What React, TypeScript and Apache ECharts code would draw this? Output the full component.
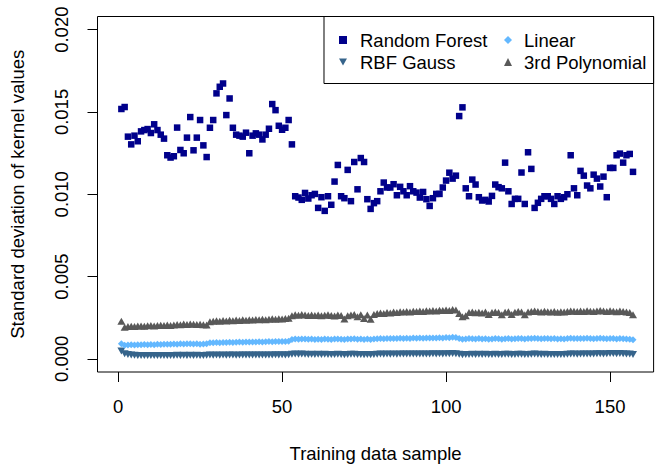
import { useEffect, useRef } from "react";
import * as echarts from "echarts";

// Kernel standard deviations per training sample (samples 1..157)
const randomForest = [
  0.01518, 0.0153, 0.0135, 0.01303, 0.01356, 0.01322, 0.01382, 0.0139, 0.01396, 0.01372,
  0.01425, 0.0139, 0.01362, 0.01338, 0.01237, 0.01223, 0.01231, 0.01405, 0.01269, 0.01249,
  0.01344, 0.01469, 0.01267, 0.01344, 0.01451, 0.01297, 0.01226, 0.01404, 0.01451, 0.01613,
  0.01653, 0.01673, 0.01481, 0.01582, 0.01404, 0.01362, 0.01356, 0.0135, 0.01374, 0.01249,
  0.01356, 0.0137, 0.01362, 0.01333, 0.01362, 0.01398, 0.01548, 0.01511, 0.01416, 0.01392,
  0.01404, 0.01451, 0.01303, 0.00988, 0.0098, 0.00966, 0.01008, 0.00974, 0.00994, 0.01002,
  0.00917, 0.00982, 0.00899, 0.00988, 0.00936, 0.01077, 0.01178, 0.00988, 0.00976, 0.01148,
  0.00958, 0.01196, 0.0103, 0.0122, 0.01196, 0.0097, 0.00911, 0.00946, 0.00958, 0.01018,
  0.01071, 0.01041, 0.01041, 0.01061, 0.00994, 0.01045, 0.01018, 0.00994, 0.01049, 0.01018,
  0.0101, 0.0098, 0.01014, 0.0097, 0.00929, 0.00976, 0.01002, 0.01002, 0.01041, 0.01083,
  0.01131, 0.01095, 0.01113, 0.01475, 0.01528, 0.01036, 0.00988, 0.01089, 0.01059, 0.00982,
  0.00962, 0.00966, 0.00956, 0.0099, 0.01059, 0.01043, 0.01036, 0.01192, 0.01018, 0.00941,
  0.00972, 0.00972, 0.01132, 0.00941, 0.01255, 0.01154, 0.00917, 0.00948, 0.00972, 0.00988,
  0.00988, 0.00972, 0.00941, 0.00988, 0.00972, 0.00982, 0.01, 0.01237, 0.01036, 0.00994,
  0.01142, 0.01113, 0.01053, 0.01036, 0.01119, 0.01095, 0.01047, 0.01107, 0.00982, 0.0116,
  0.0116, 0.01237, 0.01247, 0.01192, 0.01237, 0.01245, 0.01136,
];

const rbfGauss = [
  0.00048, 0.00031, 0.00026, 0.00023, 0.00022, 0.00021, 0.0002, 0.00021, 0.0002, 0.00021,
  0.0002, 0.00021, 0.0002, 0.00021, 0.00021, 0.0002, 0.00021, 0.00022, 0.00021, 0.00022,
  0.00021, 0.00022, 0.00021, 0.00022, 0.00021, 0.00021, 0.00022, 0.00023, 0.00022, 0.00023,
  0.00022, 0.00023, 0.00022, 0.00023, 0.00023, 0.00022, 0.00023, 0.00024, 0.00023, 0.00024,
  0.00023, 0.00024, 0.00023, 0.00024, 0.00024, 0.00023, 0.00024, 0.00025, 0.00024, 0.00025,
  0.00024, 0.00025, 0.00028, 0.00029, 0.00028, 0.00029, 0.00028, 0.00027, 0.00028, 0.00027,
  0.00028, 0.00027, 0.00028, 0.00027, 0.00026, 0.00027, 0.00028, 0.00027, 0.00025, 0.00027,
  0.00028, 0.00028, 0.00026, 0.00027, 0.00025, 0.00027, 0.00025, 0.00027, 0.00028, 0.00029,
  0.00028, 0.00029, 0.00028, 0.00029, 0.00028, 0.00029, 0.00029, 0.0003, 0.00029, 0.0003,
  0.00029, 0.0003, 0.00029, 0.0003, 0.0003, 0.00031, 0.0003, 0.00031, 0.0003, 0.00031,
  0.00031, 0.00032, 0.00031, 0.00028, 0.00025, 0.00026, 0.00027, 0.00028, 0.00027, 0.00028,
  0.00027, 0.00028, 0.00026, 0.00027, 0.00028, 0.00027, 0.00026, 0.00028, 0.00028, 0.00026,
  0.00027, 0.00028, 0.00028, 0.00026, 0.00027, 0.00028, 0.00029, 0.00028, 0.00027, 0.00028,
  0.00027, 0.00026, 0.00027, 0.00026, 0.00027, 0.00027, 0.00028, 0.00029, 0.00029, 0.00028,
  0.00029, 0.00029, 0.0003, 0.00029, 0.0003, 0.00031, 0.00031, 0.0003, 0.00031, 0.00032,
  0.00032, 0.00031, 0.00032, 0.00031, 0.0003, 0.00029, 0.00027,
];

const linear = [
  0.00092, 0.00083, 0.00084, 0.00085, 0.00084, 0.00086, 0.00085, 0.00087, 0.00086, 0.00087,
  0.00086, 0.00088, 0.00087, 0.00088, 0.00089, 0.00088, 0.0009, 0.00089, 0.00091, 0.0009,
  0.00091, 0.00092, 0.0009, 0.00091, 0.00089, 0.0009, 0.00091, 0.00097, 0.00098, 0.00099,
  0.00098, 0.001, 0.00099, 0.00101, 0.001, 0.00101, 0.00102, 0.00101, 0.00102, 0.00103,
  0.00102, 0.00103, 0.00104, 0.00103, 0.00104, 0.00105, 0.00104, 0.00105, 0.00106, 0.00105,
  0.00106, 0.00107, 0.00118, 0.0012, 0.00119, 0.00121, 0.0012, 0.00119, 0.0012, 0.00118,
  0.00119, 0.00118, 0.0012, 0.00119, 0.00118, 0.0012, 0.00121, 0.00119, 0.00117, 0.0012,
  0.00121, 0.00122, 0.00119, 0.00121, 0.00118, 0.0012, 0.00117, 0.00121, 0.00122, 0.00123,
  0.00122, 0.00124, 0.00123, 0.00124, 0.00123, 0.00125, 0.00124, 0.00125, 0.00124, 0.00126,
  0.00125, 0.00126, 0.00125, 0.00127, 0.00126, 0.00127, 0.00126, 0.00128, 0.00127, 0.00129,
  0.00128, 0.00131, 0.0013, 0.00124, 0.00119, 0.00121, 0.00123, 0.00122, 0.00121, 0.00123,
  0.0012, 0.00122, 0.00119, 0.00121, 0.00123, 0.00122, 0.00119, 0.00122, 0.00123, 0.0012,
  0.00122, 0.00124, 0.00123, 0.0012, 0.00123, 0.00124, 0.00125, 0.00123, 0.00122, 0.00124,
  0.00123, 0.00122, 0.00123, 0.00121, 0.00122, 0.00121, 0.00123, 0.00125, 0.00124, 0.00123,
  0.00124, 0.00123, 0.00125, 0.00124, 0.00122, 0.00124, 0.00125, 0.00124, 0.00122, 0.00124,
  0.00123, 0.00121, 0.00123, 0.00122, 0.0012, 0.00119, 0.00116,
];

const polynomial3 = [
  0.00228, 0.00192, 0.00196, 0.00198, 0.00197, 0.00199, 0.002, 0.00198, 0.00201, 0.00202,
  0.002, 0.00203, 0.00204, 0.00202, 0.00205, 0.00203, 0.00206, 0.00209, 0.00207, 0.00211,
  0.00209, 0.00212, 0.0021, 0.00208, 0.0021, 0.00207, 0.00205, 0.00226, 0.00229, 0.00231,
  0.00228, 0.00233, 0.0023, 0.00234, 0.00232, 0.00236, 0.00233, 0.00237, 0.00235, 0.00238,
  0.00236, 0.00239, 0.00237, 0.0024, 0.00238, 0.00241, 0.00243, 0.0024, 0.00244, 0.00242,
  0.00245, 0.00247, 0.00262, 0.00268, 0.00265, 0.0027, 0.00266, 0.00264, 0.00267, 0.00263,
  0.00266, 0.00262, 0.00265, 0.00268, 0.00264, 0.00261, 0.00266, 0.00263, 0.00242, 0.00262,
  0.00266, 0.0027, 0.00255, 0.00268, 0.00245, 0.00266, 0.0024, 0.0027, 0.00275, 0.00278,
  0.00276, 0.00281, 0.00279, 0.00284, 0.00282, 0.00286, 0.00284, 0.00288, 0.00285, 0.00289,
  0.00287, 0.00291, 0.00288, 0.00292, 0.0029, 0.00294, 0.00291, 0.00295, 0.00293, 0.00297,
  0.00294, 0.00299, 0.00296, 0.00276, 0.00255, 0.00262, 0.00281, 0.00284, 0.0028, 0.00283,
  0.00279, 0.00284, 0.0027, 0.00282, 0.00285, 0.00281, 0.00268, 0.00283, 0.00286, 0.0027,
  0.00283, 0.00287, 0.00284, 0.00268, 0.00285, 0.00288, 0.00291, 0.00287, 0.00285, 0.00289,
  0.00286, 0.00284, 0.00287, 0.00283, 0.00286, 0.00284, 0.00288, 0.00291, 0.00289, 0.00287,
  0.0029, 0.00288, 0.00292, 0.00289, 0.00287, 0.00291, 0.00293, 0.0029, 0.00288, 0.00292,
  0.00289, 0.00286, 0.0029, 0.00287, 0.00284, 0.00281, 0.00268,
];

const xTicks = [0, 50, 100, 150];
const yTicks = [0, 0.005, 0.01, 0.015, 0.02];

const FONT = "'Liberation Sans', Arial, Helvetica, sans-serif";
const FONT_SIZE = 18.5;
const DOWN_TRIANGLE = "path://M0,0L10,0L5,9Z";

const toPoints = (values: number[]) => values.map((v, i) => [i + 1, v]);

export default function App() {
  const ref = useRef<HTMLDivElement>(null);

  useEffect(() => {
    if (!ref.current) return;
    const chart = echarts.init(ref.current, undefined, { renderer: "svg" });

    const legendBase = {
      orient: "vertical",
      top: 30,
      padding: 0,
      itemWidth: 8,
      itemHeight: 8,
      itemGap: 2,
    };
    const legendText = (pad: number) => ({
      fontSize: FONT_SIZE,
      lineHeight: 20,
      color: "#000",
      fontFamily: FONT,
      padding: [0, 0, 0, pad],
    });
    const axisText = { fontSize: FONT_SIZE, color: "#000", fontFamily: FONT };

    chart.setOption({
      animation: false,
      backgroundColor: "#fff",
      textStyle: { fontFamily: FONT },
      grid: {
        left: 97.4,
        right: 2.4,
        top: 16.5,
        bottom: 87.8,
        show: true,
        borderColor: "#000",
        borderWidth: 1,
        backgroundColor: "transparent",
      },
      legend: [
        {
          ...legendBase,
          left: 339,
          textStyle: legendText(8),
          data: [
            { name: "Random Forest", icon: "rect" },
            { name: "RBF Gauss", icon: DOWN_TRIANGLE },
          ],
        },
        {
          ...legendBase,
          left: 504,
          textStyle: legendText(7),
          data: [
            { name: "Linear", icon: "diamond" },
            { name: "3rd Polynomial", icon: "triangle" },
          ],
        },
      ],
      graphic: [
        {
          type: "rect",
          shape: { x: 324, y: 16.5, width: 329.6, height: 67 },
          style: { fill: "none", stroke: "#000", lineWidth: 1 },
          silent: true,
        },
      ],
      xAxis: {
        type: "value",
        min: -6.28,
        max: 163.28,
        name: "Training data sample",
        nameLocation: "middle",
        nameGap: 72,
        nameTextStyle: axisText,
        axisLine: { show: false, onZero: false },
        splitLine: { show: false },
        axisTick: {
          show: true,
          customValues: xTicks,
          length: 10,
          lineStyle: { color: "#000", width: 1 },
        },
        axisLabel: {
          ...axisText,
          customValues: xTicks,
          margin: 25,
        },
      },
      yAxis: {
        type: "value",
        min: -0.0008,
        max: 0.0208,
        name: "Standard deviation of kernel values",
        nameLocation: "middle",
        nameGap: 70.5,
        nameTextStyle: axisText,
        axisLine: { show: false, onZero: false },
        splitLine: { show: false },
        axisTick: {
          show: true,
          customValues: yTicks,
          length: 10,
          lineStyle: { color: "#000", width: 1 },
        },
        axisLabel: {
          ...axisText,
          customValues: yTicks,
          rotate: 90,
          margin: 27,
          formatter: (v: number) => v.toFixed(3),
        },
      },
      series: [
        {
          name: "Random Forest",
          type: "scatter",
          symbol: "rect",
          symbolSize: 6.5,
          itemStyle: { color: "#00008B", opacity: 1 },
          data: toPoints(randomForest),
        },
        {
          name: "RBF Gauss",
          type: "scatter",
          symbol: DOWN_TRIANGLE,
          symbolSize: [8, 7],
          itemStyle: { color: "#36648B", opacity: 1 },
          data: toPoints(rbfGauss),
        },
        {
          name: "Linear",
          type: "scatter",
          symbol: "diamond",
          symbolSize: 7,
          itemStyle: { color: "#63B8FF", opacity: 1 },
          data: toPoints(linear),
        },
        {
          name: "3rd Polynomial",
          type: "scatter",
          symbol: "triangle",
          symbolSize: [8, 7],
          itemStyle: { color: "#595959", opacity: 1 },
          data: toPoints(polynomial3),
        },
      ],
    });

    return () => chart.dispose();
  }, []);

  return (
    <div
      ref={ref}
      style={{ position: "fixed", left: 0, top: 0, width: 656, height: 468 }}
    />
  );
}
